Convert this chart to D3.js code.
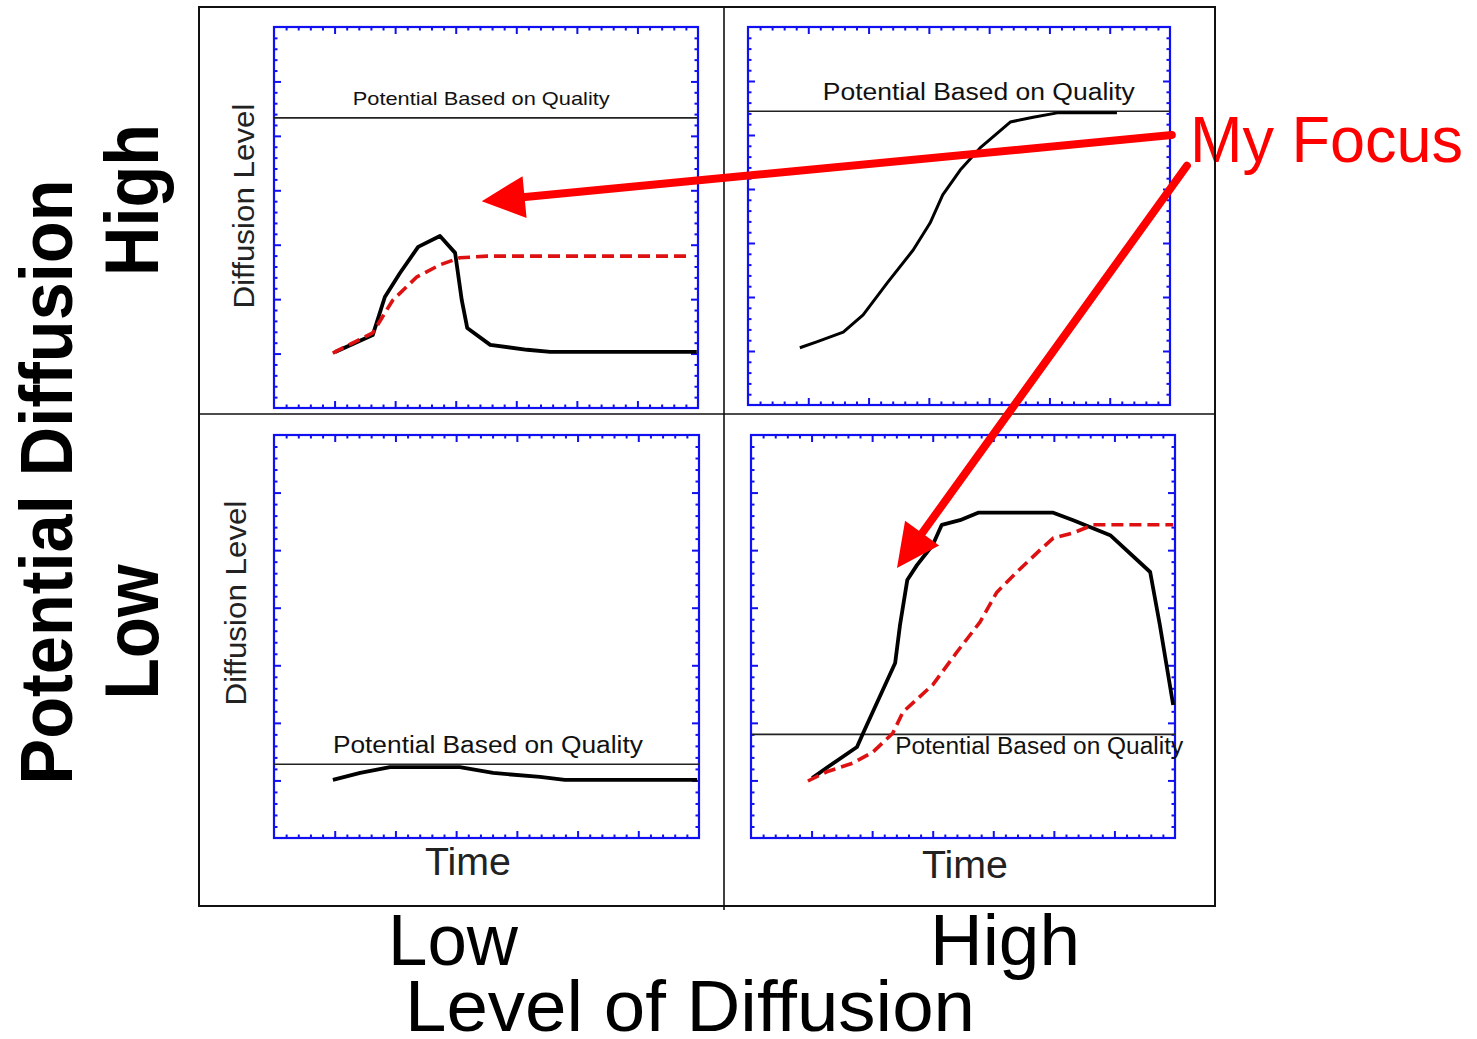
<!DOCTYPE html>
<html><head><meta charset="utf-8">
<script src="https://cdn.jsdelivr.net/npm/d3@7"></script>
<style>html,body{margin:0;padding:0;background:#fff;}svg{display:block;}</style>
</head><body>
<svg id="chart" width="1477" height="1039"></svg>
<script>
// ---------- data (time units 0..7, diffusion level units 0..7) ----------
const quadrants = ["TL", "TR", "BL", "BR"];
const potentialLevel = { TL: 5.33, TR: 5.44, BL: 1.28, BR: 1.80 };
const potentialLabel = "Potential Based on Quality";
const tlActual = [[1.01,1.03],[1.63,1.34],[1.83,2.04],[2.08,2.48],[2.38,2.96],[2.74,3.16],[2.99,2.85],[3.10,1.98],[3.19,1.47],[3.57,1.16],[4.18,1.07],[4.56,1.03],[6.98,1.03]];
const tlFocus  = [[0.97,1.01],[1.63,1.38],[1.96,1.98],[2.36,2.41],[2.74,2.63],[3.07,2.76],[3.52,2.79],[6.87,2.79]];
const trActual = [[0.86,1.06],[1.14,1.17],[1.58,1.35],[1.91,1.67],[2.31,2.26],[2.74,2.87],[3.02,3.37],[3.23,3.89],[3.52,4.35],[3.85,4.76],[4.35,5.24],[4.73,5.33],[5.13,5.41],[6.12,5.41]];
const blActual = [[0.97,1.01],[1.42,1.13],[1.91,1.23],[3.06,1.23],[3.61,1.13],[4.38,1.06],[4.79,1.01],[6.97,1.01]];
const brActual = [[1.01,1.04],[1.25,1.22],[1.75,1.58],[1.85,1.82],[2.01,2.19],[2.38,3.04],[2.46,3.70],[2.58,4.48],[2.74,4.74],[3.00,5.09],[3.15,5.44],[3.45,5.52],[3.75,5.65],[4.99,5.65],[5.32,5.52],[5.93,5.26],[6.59,4.62],[6.75,3.70],[6.97,2.31]];
const brFocus  = [[0.94,0.99],[1.25,1.15],[1.68,1.30],[2.01,1.49],[2.34,1.82],[2.51,2.19],[3.00,2.66],[3.40,3.23],[3.78,3.75],[4.06,4.27],[4.39,4.62],[4.77,5.00],[4.99,5.21],[5.32,5.30],[5.65,5.44],[6.97,5.44]];
const majorTicks = [1,2,3,4,5,6];
const minorTicks = d3.range(0.2, 7, 0.2).filter(v => Math.abs(v - Math.round(v)) > 0.01);
const xCategories = ["Low", "High"];
const yCategories = ["High", "Low"];
const xTitle = "Level of Diffusion";
const yTitle = "Potential Diffusion";
const panelXLabel = "Time";
const panelYLabel = "Diffusion Level";
const focusText = "My Focus";
// arrows: from (panel, x, y) to (panel, x, y) in panel units
const arrows = [
  { from: ["TR", 7.03, 5.00], to: ["TL", 3.43, 3.80] },
  { from: ["TR", 7.28, 4.43], to: ["BR", 2.41, 4.69] }
];

// ---------- layout ----------
const svg = d3.select("#chart");
const FONT = "'Liberation Sans', Arial, Helvetica, sans-serif";
const BLUE = "#1010f0";
const RED = "#ff0000";
const boxes = {
  TL: { x0: 274, x1: 698, y0: 27, y1: 408 },
  TR: { x0: 748, x1: 1170, y0: 27, y1: 405 },
  BL: { x0: 274, x1: 699, y0: 435, y1: 838 },
  BR: { x0: 751, x1: 1175, y0: 435, y1: 838 }
};
const labelPos = {
  TL: { x: 1.30, y: 5.57, len: 257, size: 19 },
  TR: { x: 1.24, y: 5.65, len: 312, size: 23 },
  BL: { x: 0.97, y: 1.48, len: 310, size: 23 },
  BR: { x: 2.38, y: 1.46, len: 288, size: 23 }
};
const series = {
  TL: [{ d: tlActual, k: "actual" }, { d: tlFocus, k: "focus" }],
  TR: [{ d: trActual, k: "actual", w: 3 }],
  BL: [{ d: blActual, k: "actual" }],
  BR: [{ d: brActual, k: "actual" }, { d: brFocus, k: "focus" }]
};
const scales = {};
quadrants.forEach(q => {
  const b = boxes[q];
  scales[q] = {
    x: d3.scaleLinear().domain([0, 7]).range([b.x0, b.x1]),
    y: d3.scaleLinear().domain([0, 7]).range([b.y1, b.y0])
  };
});

quadrants.forEach(q => {
  const b = boxes[q], sx = scales[q].x, sy = scales[q].y;
  const g = svg.append("g");
  // ticks on all four sides (inward)
  const axes = [
    [d3.axisBottom(sx), `translate(0,${b.y1})`],
    [d3.axisTop(sx), `translate(0,${b.y0})`],
    [d3.axisLeft(sy), `translate(${b.x0},0)`],
    [d3.axisRight(sy), `translate(${b.x1},0)`]
  ];
  axes.forEach(([ax, tr]) => {
    [[minorTicks, 3.5], [majorTicks, 7]].forEach(([vals, len]) => {
      const a = g.append("g").attr("transform", tr)
        .call(ax.tickValues(vals).tickSize(-len).tickFormat(""));
      a.select(".domain").remove();
      a.selectAll("line").attr("stroke", BLUE).attr("stroke-width", 2);
    });
  });
  g.append("rect").attr("x", b.x0).attr("y", b.y0)
    .attr("width", b.x1 - b.x0).attr("height", b.y1 - b.y0)
    .attr("fill", "none").attr("stroke", BLUE).attr("stroke-width", 2.2);
  // potential line
  g.append("line").attr("x1", sx(0)).attr("x2", sx(7))
    .attr("y1", sy(potentialLevel[q])).attr("y2", sy(potentialLevel[q]))
    .attr("stroke", "#222").attr("stroke-width", 1.6);
  const lp = labelPos[q];
  g.append("text").attr("x", sx(lp.x)).attr("y", sy(lp.y))
    .attr("font-family", FONT).attr("font-size", lp.size).attr("fill", "#111")
    .attr("textLength", lp.len).attr("lengthAdjust", "spacingAndGlyphs")
    .text(potentialLabel);
  const line = d3.line().x(d => sx(d[0])).y(d => sy(d[1]));
  series[q].forEach(s => {
    const p = g.append("path").attr("d", line(s.d)).attr("fill", "none")
      .attr("stroke-linejoin", "round");
    if (s.k === "actual") p.attr("stroke", "#000").attr("stroke-width", s.w || 3.8);
    else p.attr("stroke", "#dd1111").attr("stroke-width", 3.6).attr("stroke-dasharray", "12,6");
  });
});

// panel axis labels
[["BL", 468, 875], ["BR", 965, 878]].forEach(([q, x, y]) => {
  svg.append("text").attr("x", x).attr("y", y).attr("text-anchor", "middle")
    .attr("font-family", FONT).attr("font-size", 38).attr("fill", "#222")
    .attr("textLength", 86).attr("lengthAdjust", "spacingAndGlyphs").text(panelXLabel);
});
[[254, 206], [246, 603]].forEach(([x, y]) => {
  svg.append("text").attr("transform", `translate(${x},${y}) rotate(-90)`)
    .attr("text-anchor", "middle").attr("font-family", FONT).attr("font-size", 30).attr("fill", "#222")
    .attr("textLength", 205).attr("lengthAdjust", "spacingAndGlyphs").text(panelYLabel);
});

// category labels
svg.append("text").attr("transform", "translate(72,482) rotate(-90)").attr("text-anchor", "middle")
  .attr("font-family", FONT).attr("font-weight", "bold").attr("font-size", 75)
  .attr("textLength", 605).attr("lengthAdjust", "spacingAndGlyphs").text(yTitle);
[[yCategories[0], 200, 152], [yCategories[1], 632, 135]].forEach(([t, y, len]) => {
  svg.append("text").attr("transform", `translate(158,${y}) rotate(-90)`).attr("text-anchor", "middle")
    .attr("font-family", FONT).attr("font-weight", "bold").attr("font-size", 76)
    .attr("textLength", len).attr("lengthAdjust", "spacingAndGlyphs").text(t);
});
[[xCategories[0], 453, 130], [xCategories[1], 1005, 150]].forEach(([t, x, len]) => {
  svg.append("text").attr("x", x).attr("y", 965).attr("text-anchor", "middle")
    .attr("font-family", FONT).attr("font-size", 73)
    .attr("textLength", len).attr("lengthAdjust", "spacingAndGlyphs").text(t);
});
svg.append("text").attr("x", 690).attr("y", 1031).attr("text-anchor", "middle")
  .attr("font-family", FONT).attr("font-size", 73)
  .attr("textLength", 570).attr("lengthAdjust", "spacingAndGlyphs").text(xTitle);

// focus text
svg.append("text").attr("x", 1190).attr("y", 162).attr("font-family", FONT)
  .attr("font-size", 64).attr("fill", RED).attr("textLength", 273).attr("lengthAdjust", "spacingAndGlyphs")
  .text(focusText);

// outer frame and dividers
svg.append("rect").attr("x", 199).attr("y", 7).attr("width", 1016).attr("height", 899)
  .attr("fill", "none").attr("stroke", "#111").attr("stroke-width", 2);
svg.append("line").attr("x1", 724).attr("x2", 724).attr("y1", 7).attr("y2", 910)
  .attr("stroke", "#111").attr("stroke-width", 1.6);
svg.append("line").attr("x1", 199).attr("x2", 1215).attr("y1", 414).attr("y2", 414)
  .attr("stroke", "#111").attr("stroke-width", 1.6);

// arrows
const pt = ([q, x, y]) => [scales[q].x(x), scales[q].y(y)];
arrows.forEach(a => {
  const [x0, y0] = pt(a.from), [x1, y1] = pt(a.to);
  const dx = x1 - x0, dy = y1 - y0, L = Math.hypot(dx, dy), ux = dx / L, uy = dy / L;
  const hl = 43, hw = 21;
  const bx = x1 - ux * hl, by = y1 - uy * hl;
  svg.append("line").attr("x1", x0).attr("y1", y0).attr("x2", bx + ux * 2).attr("y2", by + uy * 2)
    .attr("stroke", RED).attr("stroke-width", 8).attr("stroke-linecap", "round");
  svg.append("path").attr("fill", RED)
    .attr("d", `M${x1},${y1}L${bx - uy * hw},${by + ux * hw}L${bx + uy * hw},${by - ux * hw}Z`);
});
</script>
</body></html>
